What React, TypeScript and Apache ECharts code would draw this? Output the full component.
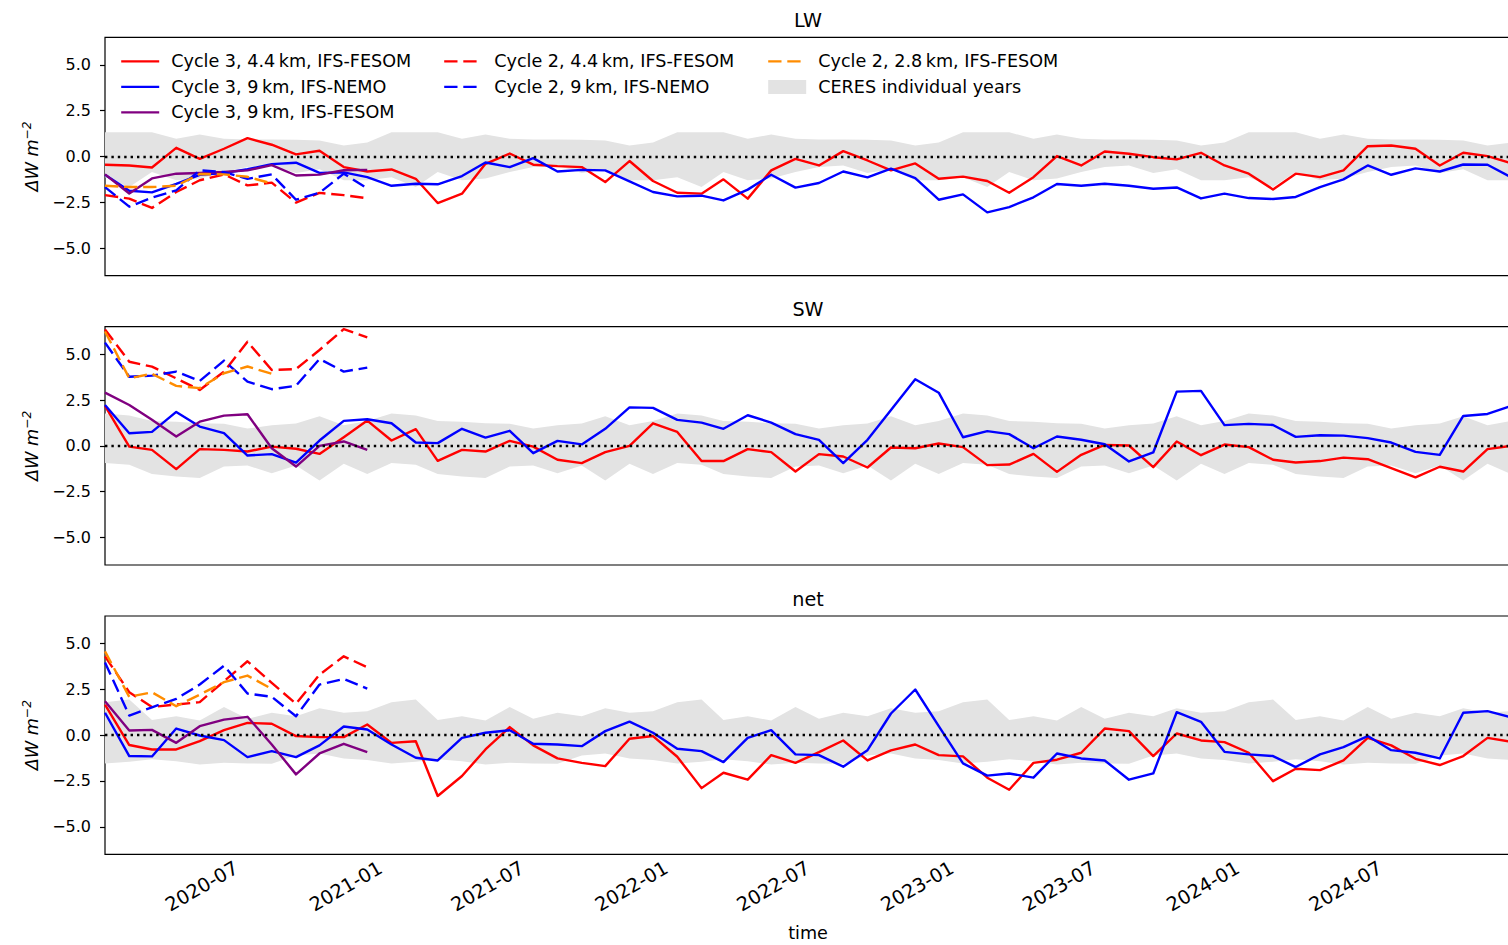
import React, { useEffect, useRef } from 'react';
import * as echarts from 'echarts';

// ---------- time coordinate (monthly means, mid-month) ----------
const monthDates: string[] = [];
for (let y = 2020; y <= 2024; y++) {
  for (let m = 1; m <= 12; m++) monthDates.push(`${y}-${String(m).padStart(2, '0')}-15`);
}
const xStart = '2020-01-15';
const xEnd = '2024-12-15';
const xTickDates = ['2020-07-01', '2021-01-01', '2021-07-01', '2022-01-01', '2022-07-01', '2023-01-01', '2023-07-01', '2024-01-01', '2024-07-01'];
const xTickLabels = ['2020-07', '2021-01', '2021-07', '2022-01', '2022-07', '2023-01', '2023-07', '2024-01', '2024-07'];
const yTicks = [-5, -2.5, 0, 2.5, 5];
const panelTitles = ['LW', 'SW', 'net'];

// ---------- LW ----------
const lwC3Fesom44 = [-0.45, -0.49, -0.6, 0.47, -0.13, 0.42, 1.0, 0.64, 0.11, 0.31, -0.58, -0.82, -0.71, -1.22, -2.54, -2.03, -0.4, 0.16, -0.45, -0.53, -0.58, -1.4, -0.25, -1.34, -1.98, -2.03, -1.25, -2.3, -0.76, -0.13, -0.49, 0.29, -0.22, -0.76, -0.38, -1.22, -1.1, -1.34, -1.98, -1.13, 0.02, -0.49, 0.27, 0.15, -0.04, -0.16, 0.2, -0.49, -0.94, -1.8, -0.94, -1.13, -0.76, 0.56, 0.6, 0.42, -0.49, 0.2, 0.02, -0.36];
const lwC3Nemo9 = [-1.0, -1.87, -1.96, -1.5, -1.0, -0.9, -0.7, -0.42, -0.34, -0.9, -0.87, -1.13, -1.6, -1.49, -1.52, -1.07, -0.33, -0.58, -0.09, -0.82, -0.73, -0.76, -1.36, -1.94, -2.18, -2.14, -2.4, -1.81, -1.0, -1.7, -1.45, -0.82, -1.14, -0.67, -1.18, -2.36, -2.07, -3.05, -2.76, -2.23, -1.5, -1.6, -1.49, -1.6, -1.76, -1.69, -2.29, -2.03, -2.27, -2.32, -2.21, -1.67, -1.25, -0.49, -1.0, -0.65, -0.82, -0.44, -0.45, -1.13];
const lwC3Fesom9 = [-0.98, -2.02, -1.2, -0.94, -0.9, -0.85, -0.76, -0.47, -1.04, -0.99, -0.75, -0.73];
const lwC2Fesom44 = [-2.11, -2.3, -2.81, -1.94, -1.3, -0.98, -1.58, -1.43, -2.52, -1.99, -2.11, -2.28];
const lwC2Nemo9 = [-1.67, -2.74, -2.25, -1.85, -0.76, -0.85, -1.22, -0.98, -2.36, -1.98, -0.94, -1.74];
const lwC2Fesom28 = [-1.6, -1.67, -1.67, -1.6, -0.96, -0.98, -1.11, -1.47];
// CERES individual years: envelope per calendar month (Jan..Dec)
const lwCeresUpperByMonth = [1.32, 1.32, 1.32, 0.96, 1.2, 0.96, 0.93, 0.93, 0.91, 0.87, 0.6, 0.76];
const lwCeresLowerByMonth = [-1.13, -1.67, -0.85, -1.3, -1.2, -0.85, -0.58, -0.5, -0.9, -0.7, -1.3, -1.3];

// ---------- SW ----------
const swC3Fesom44 = [2.18, -0.04, -0.22, -1.27, -0.18, -0.22, -0.31, -0.04, -0.16, -0.44, 0.47, 1.38, 0.29, 0.91, -0.82, -0.22, -0.31, 0.27, -0.04, -0.76, -0.94, -0.34, 0.0, 1.23, 0.76, -0.83, -0.83, -0.18, -0.34, -1.4, -0.45, -0.58, -1.18, -0.09, -0.13, 0.13, -0.07, -1.05, -1.02, -0.44, -1.42, -0.49, 0.05, 0.02, -1.16, 0.24, -0.51, 0.07, -0.07, -0.76, -0.91, -0.83, -0.64, -0.73, -1.22, -1.72, -1.14, -1.4, -0.18, 0.0];
const swC3Nemo9 = [2.23, 0.69, 0.76, 1.85, 1.05, 0.69, -0.53, -0.45, -0.91, 0.29, 1.36, 1.45, 1.23, 0.18, 0.15, 0.93, 0.45, 0.82, -0.4, 0.27, 0.08, 0.93, 2.1, 2.07, 1.42, 1.27, 0.93, 1.67, 1.27, 0.64, 0.33, -0.94, 0.33, 1.96, 3.63, 2.9, 0.47, 0.8, 0.64, -0.13, 0.51, 0.33, 0.09, -0.85, -0.36, 2.96, 3.0, 1.13, 1.2, 1.14, 0.49, 0.58, 0.56, 0.42, 0.18, -0.33, -0.49, 1.63, 1.74, 2.18];
const swC3Fesom9 = [2.9, 2.23, 1.42, 0.51, 1.32, 1.65, 1.72, -0.13, -1.13, 0.0, 0.24, -0.22];
const swC2Fesom44 = [6.35, 4.59, 4.32, 3.68, 3.05, 4.05, 5.68, 4.14, 4.19, 5.23, 6.37, 5.92];
const swC2Nemo9 = [5.63, 3.77, 3.83, 4.05, 3.54, 4.65, 3.5, 3.09, 3.28, 4.74, 4.05, 4.27];
const swC2Fesom28 = [6.24, 3.69, 3.93, 3.27, 3.15, 3.96, 4.33, 3.93];
const swCeresUpperByMonth = [1.76, 1.65, 1.36, 1.32, 1.23, 1.2, 0.94, 1.13, 1.22, 1.62, 1.13, 1.36];
const swCeresLowerByMonth = [-0.94, -1.03, -1.54, -1.67, -1.76, -1.13, -1.07, -1.49, -1.07, -1.89, -0.98, -1.54];

// ---------- net ----------
const netC3Fesom44 = [1.67, -0.54, -0.78, -0.78, -0.33, 0.27, 0.67, 0.62, -0.05, -0.11, -0.11, 0.58, -0.42, -0.33, -3.32, -2.23, -0.78, 0.44, -0.56, -1.27, -1.51, -1.69, -0.2, -0.05, -1.18, -2.89, -2.05, -2.43, -1.09, -1.51, -0.93, -0.29, -1.38, -0.83, -0.51, -1.09, -1.16, -2.32, -2.98, -1.51, -1.34, -0.96, 0.36, 0.22, -1.14, 0.09, -0.29, -0.38, -0.96, -2.51, -1.83, -1.91, -1.38, -0.15, -0.56, -1.29, -1.63, -1.14, -0.15, -0.36];
const netC3Nemo9 = [1.22, -1.14, -1.16, 0.36, -0.02, -0.27, -1.2, -0.87, -1.2, -0.56, 0.47, 0.31, -0.51, -1.23, -1.38, -0.15, 0.13, 0.27, -0.47, -0.51, -0.6, 0.22, 0.74, 0.13, -0.74, -0.87, -1.47, -0.15, 0.27, -1.05, -1.09, -1.72, -0.82, 1.18, 2.49, 0.49, -1.54, -2.21, -2.09, -2.32, -1.0, -1.27, -1.38, -2.43, -2.09, 1.25, 0.73, -0.91, -1.05, -1.14, -1.74, -1.05, -0.65, -0.05, -0.82, -0.96, -1.27, 1.22, 1.31, 0.98];
const netC3Fesom9 = [1.85, 0.25, 0.29, -0.42, 0.49, 0.85, 1.0, -0.51, -2.14, -1.0, -0.47, -0.93];
const netC2Fesom44 = [4.3, 2.34, 1.54, 1.67, 1.8, 2.94, 4.03, 2.85, 1.71, 3.3, 4.3, 3.7];
const netC2Nemo9 = [3.97, 1.07, 1.52, 1.98, 2.76, 3.79, 2.27, 2.09, 1.03, 2.76, 3.07, 2.54];
const netC2Fesom28 = [4.57, 2.09, 2.34, 1.58, 2.21, 2.89, 3.25, 2.52];
const netCeresUpperByMonth = [1.8, 1.94, 0.82, 1.03, 0.8, 1.54, 0.89, 1.22, 1.03, 1.47, 1.22, 1.31];
const netCeresLowerByMonth = [-1.54, -1.45, -1.32, -1.42, -1.6, -1.51, -1.54, -1.56, -1.11, -1.0, -1.27, -1.36];

const seriesNames = [
  'Cycle 3, 4.4\u2009km, IFS-FESOM',
  'Cycle 3, 9\u2009km, IFS-NEMO',
  'Cycle 3, 9\u2009km, IFS-FESOM',
  'Cycle 2, 4.4\u2009km, IFS-FESOM',
  'Cycle 2, 9\u2009km, IFS-NEMO',
  'Cycle 2, 2.8\u2009km, IFS-FESOM',
];
const ceresName = 'CERES individual years';

// ---------- styling ----------
const FONT = "'DejaVu Sans', 'Liberation Sans', sans-serif";
const seriesColors = ['#ff0000', '#0000ff', '#800080', '#ff0000', '#0000ff', '#ff8c00'];
const seriesDashed = [false, false, false, true, true, true];
const BAND = '#e3e3e3';
const DASH = [13.3, 5.8];
const DOT = [2.4, 4.0];
const LINE_W = 2.4;
const gridTops = [37.3, 326.7, 616];
const GRID_H = 238.3;
const GRID_LEFT = 105;
const GRID_RIGHT = -3;

const toTs = (s: string) => {
  const [y, m, d] = s.split('-').map(Number);
  return Date.UTC(y, m - 1, d);
};

function buildOption() {
  const panels = [
    { lines: [lwC3Fesom44, lwC3Nemo9, lwC3Fesom9, lwC2Fesom44, lwC2Nemo9, lwC2Fesom28], up: lwCeresUpperByMonth, lo: lwCeresLowerByMonth },
    { lines: [swC3Fesom44, swC3Nemo9, swC3Fesom9, swC2Fesom44, swC2Nemo9, swC2Fesom28], up: swCeresUpperByMonth, lo: swCeresLowerByMonth },
    { lines: [netC3Fesom44, netC3Nemo9, netC3Fesom9, netC2Fesom44, netC2Nemo9, netC2Fesom28], up: netCeresUpperByMonth, lo: netCeresLowerByMonth },
  ];
  const monthTs = monthDates.map(toTs);
  const tickTs = xTickDates.map(toTs);
  const xMin = toTs(xStart);
  const xMax = toTs(xEnd);

  const grid = gridTops.map((top) => ({
    left: GRID_LEFT,
    right: GRID_RIGHT,
    top,
    height: GRID_H,
    show: true,
    borderColor: '#000',
    borderWidth: 1.2,
    backgroundColor: 'rgba(0,0,0,0)',
    containLabel: false,
    outerBoundsMode: 'none',
  }));

  const xAxis = gridTops.map((_, p) => ({
    type: 'value',
    gridIndex: p,
    min: xMin,
    max: xMax,
    scale: true,
    axisLine: { show: false },
    splitLine: { show: false },
    minorTick: { show: false },
    axisTick: { show: true, customValues: tickTs, length: 5, inside: false, lineStyle: { color: '#000', width: 1.2 } },
    axisLabel: {
      show: p === 2,
      customValues: tickTs,
      rotate: 30,
      margin: 12,
      fontSize: 19.2,
      color: '#000',
      fontFamily: FONT,
      formatter: (v: number) => {
        const k = tickTs.indexOf(v);
        return k >= 0 ? xTickLabels[k] : '';
      },
    },
    name: p === 2 ? 'time' : '',
    nameLocation: 'middle',
    nameGap: 70,
    nameTextStyle: { fontSize: 17.6, color: '#000', fontFamily: FONT },
  }));

  const yAxis = gridTops.map((_, p) => ({
    type: 'value',
    gridIndex: p,
    min: -6.5,
    max: 6.5,
    axisLine: { show: false },
    splitLine: { show: false },
    axisTick: { show: true, customValues: yTicks, length: 5, lineStyle: { color: '#000', width: 1.2 } },
    axisLabel: {
      customValues: yTicks,
      margin: 14,
      fontSize: 16,
      color: '#000',
      fontFamily: FONT,
      formatter: (v: number) => (v < 0 ? '\u2212' : '') + Math.abs(v).toFixed(1),
    },
    name: '{i|\u0394W m}{s|\u22122}',
    nameLocation: 'middle',
    nameRotate: 90,
    nameGap: 63,
    nameTextStyle: {
      rich: {
        i: { fontSize: 17.6, fontStyle: 'italic', fontFamily: FONT, color: '#000', verticalAlign: 'bottom', lineHeight: 20 },
        s: { fontSize: 12.3, fontStyle: 'italic', fontFamily: FONT, color: '#000', verticalAlign: 'top', lineHeight: 12 },
      },
    },
  }));

  const series: any[] = [];
  panels.forEach((pn, p) => {
    // CERES envelope rows: [time, lower, upper]
    const bandRows = monthTs.map((t, i) => [t, pn.lo[i % 12], pn.up[i % 12]]);
    series.push({
      name: ceresName,
      type: 'custom',
      xAxisIndex: p,
      yAxisIndex: p,
      data: bandRows,
      encode: { x: 0, y: [1, 2] },
      silent: true,
      clip: true,
      z: 2,
      itemStyle: { color: BAND },
      renderItem: (params: any, api: any) => {
        if (params.dataIndex !== 0) return null;
        const upperPts = bandRows.map((r) => api.coord([r[0], r[2]]));
        const lowerPts = bandRows.map((r) => api.coord([r[0], r[1]])).reverse();
        return {
          type: 'polygon',
          shape: { points: upperPts.concat(lowerPts) },
          style: { fill: BAND, stroke: 'none' },
          silent: true,
        };
      },
    });
    pn.lines.forEach((vals, k) => {
      const s: any = {
        name: seriesNames[k],
        type: 'line',
        xAxisIndex: p,
        yAxisIndex: p,
        data: vals.map((v, i) => [monthTs[i], v]),
        symbol: 'none',
        showSymbol: false,
        silent: true,
        clip: true,
        itemStyle: { color: seriesColors[k] },
        lineStyle: { color: seriesColors[k], width: LINE_W, type: seriesDashed[k] ? DASH : 'solid', join: 'round' },
        emphasis: { disabled: true },
        z: 3,
      };
      if (k === 0) {
        s.markLine = {
          silent: true,
          symbol: 'none',
          label: { show: false },
          emphasis: { disabled: true },
          lineStyle: { color: '#000', type: DOT, width: LINE_W, cap: 'butt' },
          data: [{ yAxis: 0 }],
        };
      }
      series.push(s);
    });
  });

  const legendCommon = {
    orient: 'vertical',
    top: 52.4,
    padding: 0,
    itemWidth: 38,
    itemHeight: 14,
    itemGap: 7.5,
    selectedMode: false,
    itemStyle: { opacity: 0 },
    lineStyle: { width: LINE_W },
    textStyle: { fontSize: 17.6, color: '#000', fontFamily: FONT, lineHeight: 18, padding: [0, 0, 0, 7] },
  };

  return {
    animation: false,
    backgroundColor: '#fff',
    textStyle: { fontFamily: FONT },
    title: panelTitles.map((t, p) => ({
      text: t,
      left: 808,
      top: gridTops[p] - 27,
      textAlign: 'center',
      padding: 0,
      textStyle: { fontSize: 19.2, fontWeight: 'normal', color: '#000', fontFamily: FONT, lineHeight: 20 },
    })),
    legend: [
      { ...legendCommon, left: 120, data: [seriesNames[0], seriesNames[1], seriesNames[2]] },
      { ...legendCommon, left: 443, data: [seriesNames[3], seriesNames[4]] },
      { ...legendCommon, left: 767, data: [seriesNames[5], { name: ceresName, icon: 'rect', itemStyle: { color: BAND, opacity: 1 } }] },
    ],
    grid,
    xAxis,
    yAxis,
    series,
  };
}

export default function App() {
  const ref = useRef<HTMLDivElement>(null);
  useEffect(() => {
    if (!ref.current) return;
    const chart = echarts.init(ref.current, null, { renderer: 'svg' });
    chart.setOption(buildOption() as any);
    return () => chart.dispose();
  }, []);
  return (
    <div
      ref={ref}
      style={{ position: 'absolute', left: 0, top: 0, width: 1508, height: 945, background: '#fff' }}
    />
  );
}
